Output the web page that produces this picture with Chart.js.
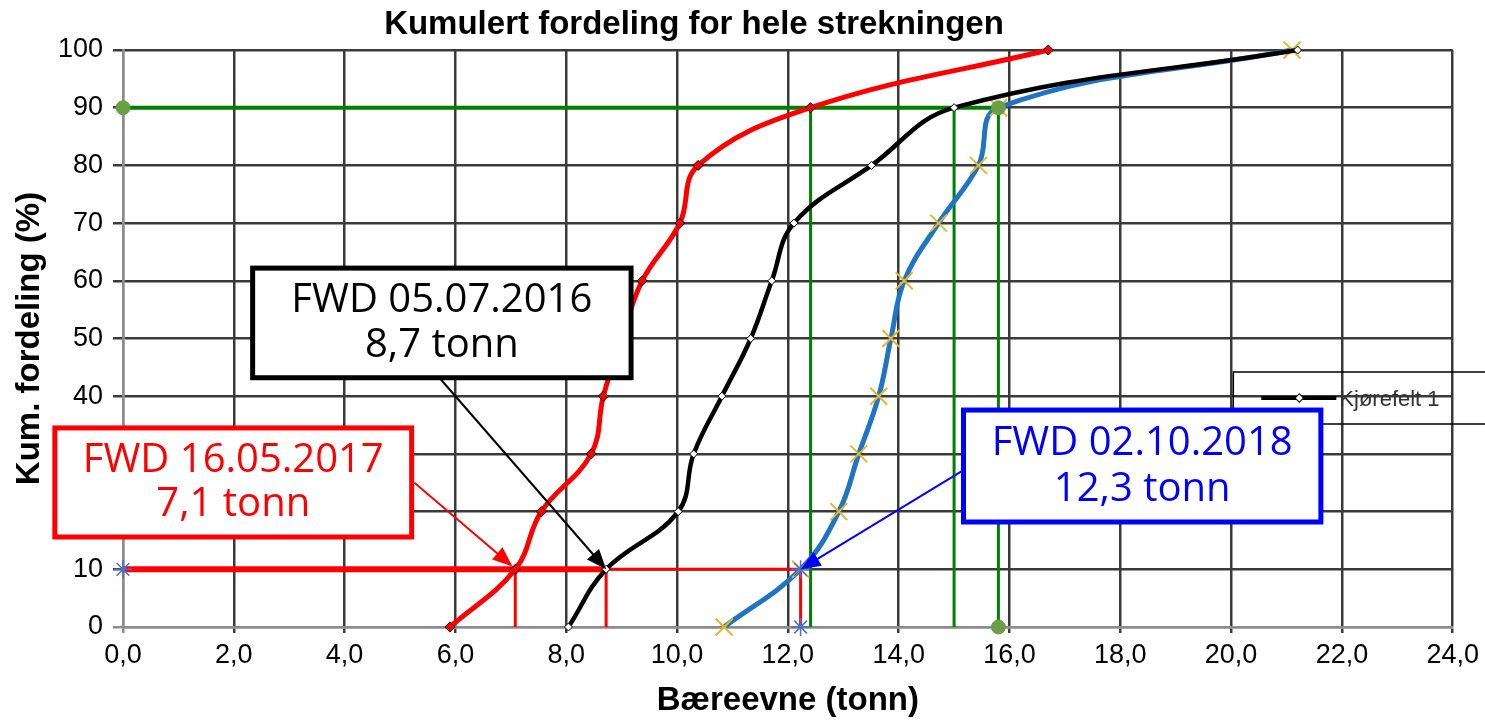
<!DOCTYPE html>
<html>
<head>
<meta charset="utf-8">
<script src="https://cdn.jsdelivr.net/npm/chart.js@4.4.1/dist/chart.umd.min.js"></script>
<style>
  html, body { margin: 0; padding: 0; background: #fff; }
  #wrap { width: 1485px; height: 721px; position: relative; }
</style>
</head>
<body>
<div id="wrap"><canvas id="chart"></canvas></div>
<script>
// Kumulativ fordeling (%) – felles for alle målingene
const fordeling = [0, 10, 20, 30, 40, 50, 60, 70, 80, 90, 100];
// Bæreevne (tonn) ved hver fordeling
const fwd2016 = [8.04, 8.72, 10.02, 10.3, 10.81, 11.33, 11.71, 12.11, 13.51, 15.0, 21.2];
const fwd2017 = [5.9, 7.08, 7.55, 8.45, 8.67, 9.0, 9.37, 10.05, 10.38, 12.41, 16.7];
const fwd2018 = [10.85, 12.23, 12.92, 13.28, 13.64, 13.86, 14.1, 14.72, 15.44, 15.8, 21.1];

const legendLabel = 'Kjørefelt 1';
const tittel = 'Kumulert fordeling for hele strekningen';

// indekser for 10 % og 90 %
const i10 = fordeling.indexOf(10);
const i90 = fordeling.indexOf(90);

const GRID = '#3a3a3a';
const AXIS = '#8c8c8c';

/**
 * Lager punktliste {x, y} fra en måleserie
 */
function toPoints(values) {
  return fordeling.map((p, i) => ({ x: values[i], y: p }));
}

// tekstbokser med pil (posisjon i dataenheter)
const callouts = [
  { lines: ['FWD 05.07.2016', '8,7 tonn'], color: '#000000',
    left: 2.34, right: 9.17, top: 62.2, bottom: 43.2,
    from: [5.71, 43.2], to: [fwd2016[i10], 10] },
  { lines: ['FWD 16.05.2017', '7,1 tonn'], color: '#ff0000',
    left: -1.23, right: 5.21, top: 34.5, bottom: 15.6,
    from: [5.26, 25.0], to: [fwd2017[i10] - 0.05, 10.5] },
  { lines: ['FWD 02.10.2018', '12,3 tonn'], color: '#0000ff',
    left: 15.17, right: 21.62, top: 37.6, bottom: 18.2,
    from: [15.17, 27.2], to: [fwd2018[i10], 10] }
];

function drawArrow(ctx, x1, y1, x2, y2, color) {
  const ang = Math.atan2(y2 - y1, x2 - x1);
  const len = 20, half = 8;
  ctx.strokeStyle = color;
  ctx.fillStyle = color;
  ctx.lineWidth = 2;
  ctx.beginPath();
  ctx.moveTo(x1, y1);
  ctx.lineTo(x2 - Math.cos(ang) * len * 0.8, y2 - Math.sin(ang) * len * 0.8);
  ctx.stroke();
  ctx.beginPath();
  ctx.moveTo(x2, y2);
  ctx.lineTo(x2 - Math.cos(ang) * len + Math.sin(ang) * half, y2 - Math.sin(ang) * len - Math.cos(ang) * half);
  ctx.lineTo(x2 - Math.cos(ang) * len - Math.sin(ang) * half, y2 - Math.sin(ang) * len + Math.cos(ang) * half);
  ctx.closePath();
  ctx.fill();
}

const overlayPlugin = {
  id: 'overlay',
  afterDatasetsDraw(chart) {
    const { ctx } = chart;
    const sx = chart.scales.x, sy = chart.scales.y;
    ctx.save();

    // tittel
    ctx.fillStyle = '#000';
    ctx.font = 'bold 33px "Liberation Sans", Arial, sans-serif';
    ctx.textAlign = 'center';
    ctx.textBaseline = 'middle';
    ctx.fillText(tittel, 694, 25);

    // forklaring
    const lx = sx.getPixelForValue(20.04);
    const lt = sy.getPixelForValue(44.2);
    const lb = sy.getPixelForValue(35.2);
    ctx.strokeStyle = '#000';
    ctx.lineWidth = 1.5;
    ctx.beginPath();
    ctx.moveTo(chart.width + 5, lt);
    ctx.lineTo(lx, lt);
    ctx.lineTo(lx, lb);
    ctx.lineTo(chart.width + 5, lb);
    ctx.stroke();
    const ly = (lt + lb) / 2;
    ctx.lineWidth = 4;
    ctx.beginPath();
    ctx.moveTo(lx + 28, ly);
    ctx.lineTo(lx + 103, ly);
    ctx.stroke();
    ctx.save();
    ctx.translate(lx + 66, ly);
    ctx.rotate(Math.PI / 4);
    ctx.fillStyle = '#fff';
    ctx.lineWidth = 1;
    ctx.fillRect(-3, -3, 6, 6);
    ctx.strokeRect(-3, -3, 6, 6);
    ctx.restore();
    ctx.fillStyle = '#333';
    ctx.font = '22px "Liberation Sans", Arial, sans-serif';
    ctx.textAlign = 'left';
    ctx.textBaseline = 'middle';
    ctx.fillText(legendLabel, lx + 106, ly + 2);

    // tekstbokser
    callouts.forEach(c => {
      const l = sx.getPixelForValue(c.left), r = sx.getPixelForValue(c.right);
      const t = sy.getPixelForValue(c.top), b = sy.getPixelForValue(c.bottom);
      drawArrow(ctx, sx.getPixelForValue(c.from[0]), sy.getPixelForValue(c.from[1]),
        sx.getPixelForValue(c.to[0]), sy.getPixelForValue(c.to[1]), c.color);
      ctx.fillStyle = '#fff';
      ctx.fillRect(l, t, r - l, b - t);
      ctx.lineWidth = 5;
      ctx.strokeStyle = c.color;
      ctx.strokeRect(l, t, r - l, b - t);
      ctx.fillStyle = c.color;
      ctx.font = '40px "Open Sans", "Noto Sans", sans-serif';
      ctx.textAlign = 'center';
      ctx.textBaseline = 'alphabetic';
      ctx.fillText(c.lines[0], (l + r) / 2, t + (b - t) * 0.40);
      ctx.fillText(c.lines[1], (l + r) / 2, t + (b - t) * 0.81);
    });
    ctx.restore();
  }
};

const refOpts = { pointRadius: 0, tension: 0, fill: false, clip: false };

const datasets = [
  // markører
  { data: [{ x: 0, y: 90 }, { x: fwd2018[i90], y: 90 }, { x: fwd2018[i90], y: 0 }],
    showLine: false, pointStyle: 'circle', pointRadius: 7,
    pointBackgroundColor: '#6a9f45', pointBorderColor: '#6a9f45', clip: false },
  { data: [{ x: 0, y: 10 }, { x: fwd2018[i10], y: 0 }, { x: fwd2018[i10], y: 10 }],
    showLine: false, pointStyle: 'star', pointRadius: 9, pointBorderWidth: 1.5,
    pointBorderColor: '#4a72c4', pointBackgroundColor: '#4a72c4', clip: false },
  // måleserier
  { label: 'FWD 16.05.2017', data: toPoints(fwd2017), borderColor: '#ff0000', borderWidth: 5,
    tension: 0.4, pointStyle: 'rectRot', pointRadius: 5, pointBackgroundColor: '#ff0000',
    pointBorderColor: '#000', pointBorderWidth: 1, clip: false },
  { label: legendLabel, data: toPoints(fwd2016), borderColor: '#000000', borderWidth: 4.5,
    tension: 0.4, pointStyle: 'rectRot', pointRadius: 4, pointBackgroundColor: '#fff',
    pointBorderColor: '#000', pointBorderWidth: 1, clip: false },
  { label: 'FWD 02.10.2018', data: toPoints(fwd2018), borderColor: '#1f74c4', borderWidth: 5,
    tension: 0.4, pointStyle: 'crossRot', pointRadius: 12, pointBorderColor: '#e8b62a',
    pointBorderWidth: 2, clip: false },
  // 90 %-linjer
  { data: [{ x: 0, y: 90 }, { x: fwd2018[i90], y: 90 }], borderColor: '#008000', borderWidth: 4, ...refOpts },
  ...[fwd2017, fwd2016, fwd2018].map(s => ({
    data: [{ x: s[i90], y: 0 }, { x: s[i90], y: 90 }], borderColor: '#008000', borderWidth: 3, ...refOpts })),
  // 10 %-linjer
  { data: [{ x: 0, y: 10 }, { x: fwd2016[i10], y: 10 }], borderColor: '#ff0000', borderWidth: 6, ...refOpts },
  { data: [{ x: fwd2016[i10], y: 10 }, { x: fwd2018[i10], y: 10 }], borderColor: '#ff0000', borderWidth: 3, ...refOpts },
  ...[fwd2017, fwd2016, fwd2018].map(s => ({
    data: [{ x: s[i10], y: 0 }, { x: s[i10], y: 10 }], borderColor: '#ff0000', borderWidth: 3, ...refOpts }))
];

const tickFont = { family: '"Liberation Sans", Arial, sans-serif', size: 27 };
const titleFont = { family: '"Liberation Sans", Arial, sans-serif', size: 33, weight: 'bold' };

new Chart(document.getElementById('chart'), {
  type: 'line',
  data: { datasets },
  options: {
    responsive: true,
    maintainAspectRatio: false,
    animation: false,
    layout: { padding: { top: 50, right: 30, left: 0, bottom: 0 } },
    plugins: {
      legend: { display: false },
      tooltip: { enabled: false },
      title: { display: false }
    },
    scales: {
      x: {
        type: 'linear',
        min: 0,
        max: 24,
        afterFit: s => { s.height = 94; },
        ticks: {
          stepSize: 2,
          color: '#000',
          font: tickFont,
          padding: 6,
          maxRotation: 0,
          callback: v => v.toFixed(1).replace('.', ',')
        },
        grid: {
          color: c => (c.tick && c.tick.value === 0 ? AXIS : GRID),
          lineWidth: 2.5,
          tickLength: 6
        },
        border: { color: AXIS, width: 2.5 },
        title: { display: true, text: 'Bæreevne (tonn)', color: '#000', font: titleFont, padding: { top: 0, bottom: 0 } }
      },
      y: {
        type: 'linear',
        min: 0,
        max: 100,
        afterFit: s => { s.width = 123; },
        ticks: {
          stepSize: 10,
          color: '#000',
          font: tickFont,
          padding: 10
        },
        grid: {
          color: c => (c.tick && c.tick.value === 0 ? AXIS : GRID),
          lineWidth: 2.5,
          tickLength: 10
        },
        border: { color: AXIS, width: 2.5 },
        title: { display: true, text: 'Kum. fordeling (%)', color: '#000', font: titleFont, padding: { top: 10, bottom: 0 } }
      }
    }
  },
  plugins: [overlayPlugin]
});
</script>
</body>
</html>
